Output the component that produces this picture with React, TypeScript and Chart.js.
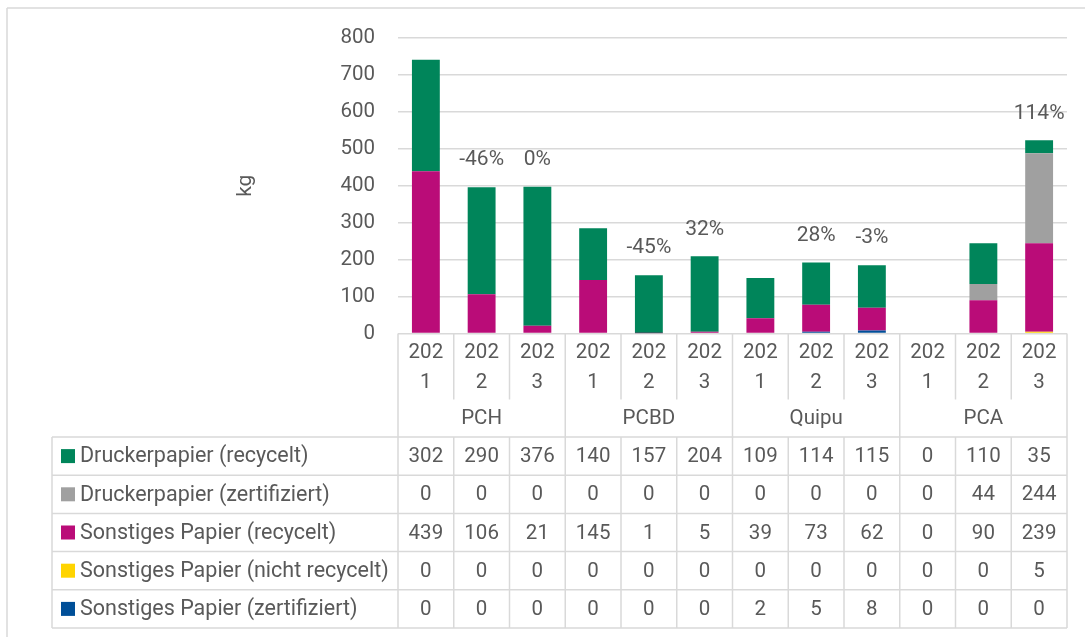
import { useEffect, useRef } from "react";
import { Chart, registerables } from "chart.js";

Chart.register(...registerables);

const years = ["2021", "2022", "2023"];
const groups = ["PCH", "PCBD", "Quipu", "PCA"];
const categories = groups.flatMap((g) => years.map((y) => `${g} ${y}`));

const druckerRecycelt = [302, 290, 376, 140, 157, 204, 109, 114, 115, 0, 110, 35];
const druckerZertifiziert = [0, 0, 0, 0, 0, 0, 0, 0, 0, 0, 44, 244];
const sonstigesRecycelt = [439, 106, 21, 145, 1, 5, 39, 73, 62, 0, 90, 239];
const sonstigesNichtRecycelt = [0, 0, 0, 0, 0, 0, 0, 0, 0, 0, 0, 5];
const sonstigesZertifiziert = [0, 0, 0, 0, 0, 0, 2, 5, 8, 0, 0, 0];

const changeLabels = ["", "-46%", "0%", "", "-45%", "32%", "", "28%", "-3%", "", "", "114%"];

const yMin = 0;
const yMax = 800;
const yStep = 100;

// table order (top to bottom)
const seriesNames = [
  "Druckerpapier (recycelt)",
  "Druckerpapier (zertifiziert)",
  "Sonstiges Papier (recycelt)",
  "Sonstiges Papier (nicht recycelt)",
  "Sonstiges Papier (zertifiziert)",
];
const seriesValues = [
  druckerRecycelt,
  druckerZertifiziert,
  sonstigesRecycelt,
  sonstigesNichtRecycelt,
  sonstigesZertifiziert,
];
const seriesColors = ["#00855A", "#A0A0A0", "#BA0C78", "#FFD400", "#004F98"];

const FONT = "Roboto, 'Open Sans', sans-serif";
const TEXT = "#595959";
const LINE = "#D9D9D9";

const tablePlugin = {
  id: "dataTable",
  afterDraw(chart: any) {
    const { ctx, chartArea } = chart;
    const xs = chart.scales.x;
    const n = categories.length;
    const colW = (chartArea.right - chartArea.left) / n;
    const bound = (i: number) => xs.getPixelForValue(i) - colW / 2;
    const right = chartArea.right;
    const base = chartArea.bottom;
    const yearBottom = base + 66;
    const groupBottom = base + 103.5;
    const rowH = 38.2;
    const tableLeft = 52;
    const tableBottom = groupBottom + rowH * seriesNames.length;

    ctx.save();
    ctx.strokeStyle = LINE;
    ctx.lineWidth = 1.5;
    const line = (x1: number, y1: number, x2: number, y2: number) => {
      ctx.beginPath();
      ctx.moveTo(x1, y1);
      ctx.lineTo(x2, y2);
      ctx.stroke();
    };

    // outer frame
    line(7, chart.height, 7, 8);
    line(7, 8, chart.width, 8);

    // axis category separators
    for (let i = 0; i <= n; i++) {
      const bx = i === n ? right : bound(i);
      if (i % 3 === 0) line(bx, base, bx, tableBottom);
      else {
        line(bx, base, bx, yearBottom);
        line(bx, groupBottom, bx, tableBottom);
      }
    }
    // table horizontal lines
    for (let r = 0; r <= seriesNames.length; r++) {
      const yy = groupBottom + r * rowH;
      line(tableLeft, yy, right, yy);
    }
    line(tableLeft, groupBottom, tableLeft, tableBottom);

    // texts
    ctx.fillStyle = TEXT;
    ctx.textAlign = "center";
    ctx.textBaseline = "middle";
    ctx.font = `20.5px ${FONT}`;
    categories.forEach((_, i) => {
      const cx = xs.getPixelForValue(i);
      const yr = years[i % 3];
      ctx.fillText(yr.slice(0, 3), cx, base + 19);
      ctx.fillText(yr.slice(3), cx, base + 49);
    });
    groups.forEach((g, gi) => {
      const cx = (bound(gi * 3) + (gi * 3 + 3 === n ? right : bound(gi * 3 + 3))) / 2;
      ctx.fillText(g, cx, base + 85);
    });

    seriesNames.forEach((name, r) => {
      const cy = groupBottom + rowH * (r + 0.5);
      ctx.fillStyle = seriesColors[r];
      ctx.fillRect(61, cy - 7, 14, 14);
      ctx.fillStyle = TEXT;
      ctx.textAlign = "left";
      ctx.font = `21.5px ${FONT}`;
      ctx.fillText(name, 80, cy + 1);
      ctx.textAlign = "center";
      ctx.font = `20.5px ${FONT}`;
      seriesValues[r].forEach((v, i) => {
        ctx.fillText(String(v), xs.getPixelForValue(i), cy + 1);
      });
    });

    // change labels above bars
    const ys = chart.scales.y;
    ctx.font = `21px ${FONT}`;
    changeLabels.forEach((lab, i) => {
      if (!lab) return;
      const total = seriesValues.reduce((s, arr) => s + arr[i], 0);
      ctx.fillText(lab, xs.getPixelForValue(i), ys.getPixelForValue(total) - 27);
    });
    ctx.restore();
  },
};

export default function App() {
  const ref = useRef<HTMLCanvasElement | null>(null);
  useEffect(() => {
    if (!ref.current) return;
    // stacking order: bottom to top
    const order = [4, 3, 2, 1, 0];
    const chart = new Chart(ref.current, {
      type: "bar",
      data: {
        labels: categories,
        datasets: order.map((k) => ({
          label: seriesNames[k],
          data: seriesValues[k],
          backgroundColor: seriesColors[k],
          borderWidth: 0,
          barPercentage: 0.5,
          categoryPercentage: 1,
        })),
      },
      options: {
        animation: false,
        responsive: true,
        maintainAspectRatio: false,
        layout: { padding: { left: 0, right: 18, top: 38, bottom: 303.5 } },
        plugins: { legend: { display: false }, tooltip: { enabled: false } },
        scales: {
          x: { display: false, stacked: true },
          y: {
            stacked: true,
            min: yMin,
            max: yMax,
            border: { display: false },
            grid: { color: LINE, lineWidth: 1.5, drawTicks: false },
            ticks: { stepSize: yStep, padding: 23, color: TEXT, font: { family: FONT, size: 20.5 } },
            title: {
              display: true,
              text: "kg",
              color: TEXT,
              font: { family: FONT, size: 21 },
              padding: { top: 233, bottom: 0 },
            },
            afterFit: (s: any) => {
              s.width = 398;
            },
          },
        },
      },
      plugins: [tablePlugin],
    });
    return () => chart.destroy();
  }, []);
  return (
    <div style={{ position: "fixed", left: 0, top: 0, width: 1085, height: 637, background: "#fff" }}>
      <canvas ref={ref} />
    </div>
  );
}
